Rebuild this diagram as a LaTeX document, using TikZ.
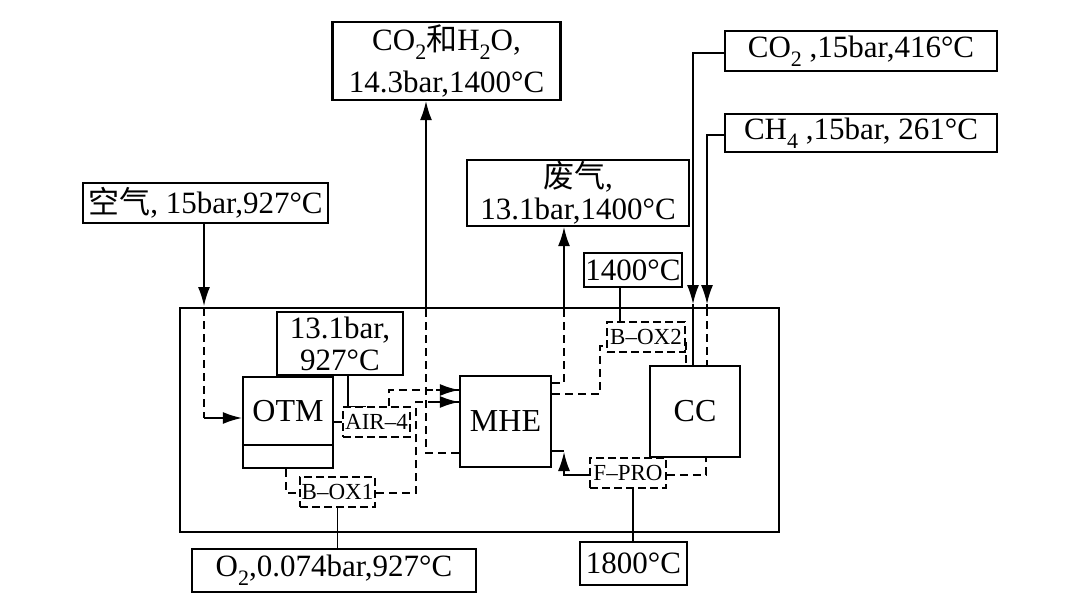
\documentclass[tikz,border=0pt]{standalone}
\usepackage{fontspec}
\setmainfont{Liberation Serif}
\newfontfamily\cjk{Noto Sans CJK SC}
\usetikzlibrary{arrows.meta}
\newcommand\lowidx[1]{\raisebox{-0.28em}{\fontsize{22}{22}\selectfont #1}}
\begin{document}
\begin{tikzpicture}[x=1pt,y=-1pt,
 box/.style={draw,line width=2.4pt,inner sep=0pt,align=center,font=\fontsize{31}{32}\selectfont},
 unit/.style={draw,line width=2.4pt,inner sep=0pt,font=\fontsize{32}{34}\selectfont},
 dbox/.style={draw,line width=1.5pt,dash pattern=on 8pt off 4pt,inner sep=0pt,font=\fontsize{23}{24}\selectfont},
 conn/.style={line width=1.4pt},
 dconn/.style={line width=1.6pt,dash pattern=on 8pt off 5pt},
 arr/.style={-{Latex[length=19pt,width=12pt]}},
]
\useasboundingbox (0,0) rectangle (1088,607);
% enclosure
\draw[line width=2.4pt] (180,308) rectangle (779,532);
% outer boxes
\node[box,minimum width=228pt,minimum height=78pt,font=\fontsize{31}{42}\selectfont] (co2h2o) at (446.5,61) {CO\lowidx{2}{\cjk 和}H\lowidx{2}O,\\14.3bar,1400°C};
\node[box,minimum width=245pt,minimum height=40pt] (air) at (205.5,203) {{\cjk 空气}, 15bar,927°C};
\node[box,minimum width=222pt,minimum height=66pt] (feiqi) at (578,193) {{\cjk 废气},\\13.1bar,1400°C};
\node[box,minimum width=272pt,minimum height=40pt] (co2) at (861,51) {CO\lowidx{2} ,15bar,416°C};
\node[box,minimum width=272pt,minimum height=38pt] (ch4) at (861,133) {CH\lowidx{4} ,15bar, 261°C};
\node[box,minimum width=98pt,minimum height=34pt] (t1400) at (633,270) {1400°C};
\node[box,minimum width=126pt,minimum height=63pt] (t131) at (340,343.5) {13.1bar,\\927°C};
\node[box,minimum width=284pt,minimum height=43pt] (o2) at (334,570.5) {O\lowidx{2},0.074bar,927°C};
\node[box,minimum width=107pt,minimum height=43pt] (t1800) at (633.5,563.5) {1800°C};
% units
\node[unit,minimum width=90pt,minimum height=91pt,label={[font=\fontsize{32}{34}\selectfont,yshift=11pt]center:OTM}] (otm) at (288,422.5) {};
\draw[line width=2.4pt] (otm.west |- 0,445) -- (otm.east |- 0,445);
\node[unit,minimum width=91pt,minimum height=91pt] (mhe) at (505.5,421.5) {MHE};
\node[unit,minimum width=90pt,minimum height=91pt] (cc) at (695,411.5) {CC};
% dashed blocks
\node[dbox,minimum width=67pt,minimum height=30pt] (air4) at (376.5,422) {AIR–4};
\node[dbox,minimum width=75pt,minimum height=30pt] (box1) at (337.5,492) {B–OX1};
\node[dbox,minimum width=78pt,minimum height=30pt] (box2) at (646,337) {B–OX2};
\node[dbox,minimum width=76pt,minimum height=30pt] (fpro) at (628,473) {F–PRO};
% bend coordinates
\coordinate (p1) at (426,453);
\coordinate (p2) at (426,308);
\coordinate (a1) at (204,308);
\coordinate (a2) at (204,418);
\coordinate (r1) at (389,390);
\coordinate (b1) at (286,493);
\coordinate (b2) at (416,493);
\coordinate (b3) at (416,402);
\coordinate (m1) at (564,383);
\coordinate (m2) at (564,308);
\coordinate (m3) at (600,394);
\coordinate (m4) at (600,346);
\coordinate (c1) at (693,53);
\coordinate (c2) at (693,304);
\coordinate (h1) at (707,135);
\coordinate (h2) at (707,304);
\coordinate (h3) at (707,308);
\coordinate (f1) at (564,475);
\coordinate (f2) at (564,452);
\coordinate (f3) at (706,475);
% air -> OTM
\draw[conn,arr] (air.south -| a1) -- (a1 |- 0,306);
\draw[dconn] (a1) -- (a2);
\draw[conn,arr] (a2) ++(6,0) -- (a2 -| otm.west);
\draw[dconn] (a2) -- ++(8,0);
% 13.1bar -> AIR-4
\draw[conn] (t131.south -| 348,0) -- (air4.north -| 348,0) -- ++(18,0);
% OTM -> AIR-4
\draw[dconn] (otm.east |- 0,422) -- (air4.west |- 0,422);
% AIR-4 -> MHE
\draw[dconn] (air4.north -| r1) -- (r1) -- (mhe.west |- r1) ;
\draw[conn,arr] (436,390) -- (mhe.west |- r1);
% OTM -> B-OX1
\draw[dconn] (otm.south -| b1) -- (b1) -- (box1.west |- b1);
% B-OX1 -> MHE
\draw[dconn] (box1.east |- b2) -- (b2) -- (b3) -- (mhe.west |- b3);
\draw[conn,arr] (436,402) -- (mhe.west |- b3);
% B-OX1 -> O2
\draw[conn] (box1.south) -- (o2.north -| box1.south);
% MHE -> CO2/H2O
\draw[dconn] (mhe.west |- p1) -- (p1) -- (p2);
\draw[conn,arr] (p2) -- (co2h2o.south -| p2);
% MHE -> exhaust
\draw[dconn] (mhe.east |- m1) -- (m1) -- (m2);
\draw[conn,arr] (m2) -- (feiqi.south -| m2);
% MHE -> B-OX2
\draw[dconn] (mhe.east |- m3) -- (m3) -- (m4) -- (box2.west |- m4);
% 1400 -> B-OX2
\draw[conn] (t1400.south -| 620,0) -- (box2.north -| 620,0);
% B-OX2 -> CC
\draw[dconn] (686,342) -- (cc.north -| 686,0);
% CO2 -> CC
\draw[conn,arr] (co2.west |- c1) -- (c1) -- (c2);
\draw[conn] (c2) -- (cc.north -| c2);
% CH4 -> CC
\draw[conn,arr] (ch4.west |- h1) -- (h1) -- (h2);
\draw[conn] (h2) -- (h3);
\draw[dconn] (h3) -- (cc.north -| h3);
% F-PRO -> MHE
\draw[conn] (mhe.east |- 0,451) -- (564,451);
\draw[conn,arr] (fpro.west |- f1) -- (f1) -- (f2);
% CC -> F-PRO
\draw[dconn] (fpro.east |- f3) -- (f3) -- (cc.south -| f3);
% F-PRO -> 1800
\draw[conn] (fpro.south -| 633,0) -- (t1800.north -| 633,0);
\end{tikzpicture}
\end{document}
